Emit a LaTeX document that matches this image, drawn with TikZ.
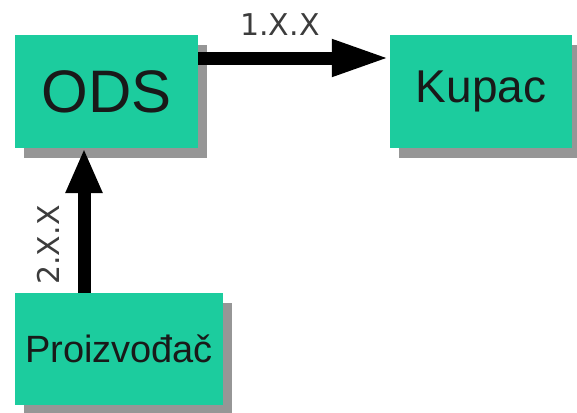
\documentclass[tikz,border=0pt]{standalone}
\usepackage{fontspec}
\setmainfont{Liberation Sans}
\newfontfamily\oznakafont{DejaVu Sans}
\usepackage{tikz}
\usetikzlibrary{positioning}
\usetikzlibrary{shadows}
\usetikzlibrary{arrows.meta}
\usepackage{xcolor}
\definecolor{tirkiz}{RGB}{28,204,158}
\definecolor{sjena}{RGB}{150,150,150}
\definecolor{oznaka}{RGB}{60,60,60}

\begin{document}
\begin{tikzpicture}[x=1pt, y=-1pt,
		blok/.style={fill=tirkiz, inner sep=0pt, text=black!90,
			drop shadow={shadow xshift=9pt, shadow yshift=-10pt, fill=sjena, opacity=1}},
		tok/.style={line width=13pt, -{Triangle[length=#1, width=34pt]}},
		oznaka/.style={inner sep=0pt, text=oznaka, font=\oznakafont\fontsize{30}{30}\selectfont}]
			    		\useasboundingbox (0,0) rectangle (577,412);
			    		\node[blok, minimum width=183pt, minimum height=113pt, font=\fontsize{60}{60}\selectfont] (ods) at (106.5, 91.5) {ODS};
			    		\node[blok, minimum width=182pt, minimum height=113pt, font=\fontsize{46}{46}\selectfont] (kupac) at (481, 91.5) {Kupac};
			    		\node[blok, minimum width=208pt, minimum height=112pt, font=\fontsize{38}{38}\selectfont] (proizvodac) at (119, 349) {Proizvođač};
			    		\draw[tok=58pt] ([yshift=33.5pt]ods.east) -- ([yshift=33.5pt]kupac.west);
			    		\draw[tok=45pt] (proizvodac.north -| 84,0) -- (ods.south -| 84,0);
						\node[oznaka] (jedan) at (280, 25) {1.X.X};
						\node[oznaka, rotate=90] (dva) at (48, 245) {2.X.X};
			    	\end{tikzpicture}
\end{document}
